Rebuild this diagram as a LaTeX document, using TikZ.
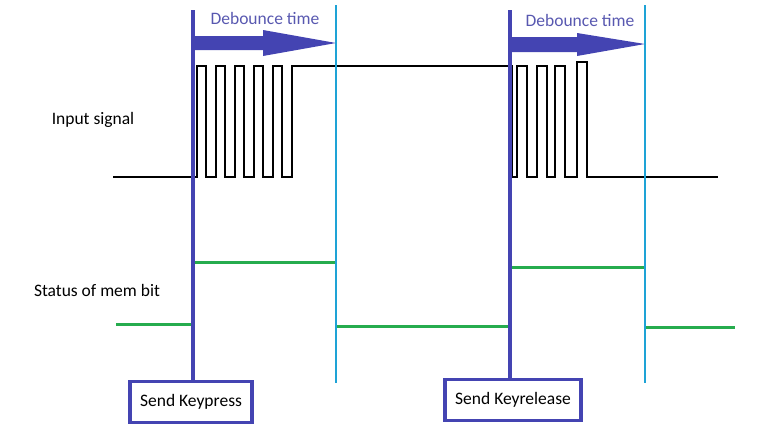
\documentclass[tikz,border=0pt]{standalone}
\usepackage{fontspec}
\setmainfont{Carlito}
\usepackage{xcolor}
\usepackage{tikz}

\definecolor{keyblue}{RGB}{68,68,178}
\definecolor{dbblue}{RGB}{30,163,214}
\definecolor{memgreen}{RGB}{38,172,78}
\definecolor{dbtext}{RGB}{88,88,176}

\begin{document}
\begin{tikzpicture}[x=1pt,y=-1pt,
	sig/.style={black, line width=2.4pt},
	mem/.style={memgreen, line width=3pt},
	keyline/.style={keyblue, line width=3.2pt},
	dbline/.style={dbblue, line width=2.8pt},
	keybox/.style={draw=keyblue, line width=3.2pt, minimum height=41pt, inner sep=0pt, font=\fontsize{17.5}{20}\selectfont},
	lbl/.style={font=\fontsize{17.5}{20}\selectfont}]
	\useasboundingbox (0,0) rectangle (784,432);
	% \draw[help lines, step=50] (0,0) grid (784,432);
	% labels
	\node[lbl] (insig) at (93,120){Input signal};
	\node[lbl] (membit) at (97,290){Status of mem bit};
	\node[lbl, text=dbtext] (dbA) at (265,18){Debounce time};
	\node[lbl, text=dbtext] (dbB) at (580,20){Debounce time};
	% boxes
	\node[keybox, minimum width=122pt] (kp) at (191,402){Send Keypress};
	\node[keybox, minimum width=136pt] (kr) at (513,400){Send Keyrelease};
	% debounce arrows
	\fill[keyblue] (193,36) -- (263,36) -- (263,30) -- (336,43) -- (263,56) -- (263,50) -- (193,50) -- cycle;
	\fill[keyblue] (510,37) -- (577,37) -- (577,33) -- (645,44) -- (577,56) -- (577,52) -- (510,52) -- cycle;
	% input signal
	\draw[sig] (113,177) -- (197,177) -- (197,66) -- (206,66) -- (206,177) -- (216,177) -- (216,66)
		-- (225,66) -- (225,177) -- (235,177) -- (235,66) -- (244,66) -- (244,177) -- (254,177)
		-- (254,66) -- (263,66) -- (263,177) -- (273,177) -- (273,66) -- (282,66) -- (282,177)
		-- (292,177) -- (292,66) -- (512,66) -- (512,177) -- (517,177) -- (517,66) -- (527,66)
		-- (527,177) -- (537,177) -- (537,66) -- (547,66) -- (547,177) -- (555,177) -- (555,66)
		-- (565,66) -- (565,177) -- (577,177) -- (577,62) -- (587,62) -- (587,177) -- (718,177);
	% mem bit
	\draw[mem] (116,324) -- (193,324);
	\draw[mem] (193,262) -- (336,262);
	\draw[mem] (336,326) -- (510,326);
	\draw[mem] (510,267) -- (645,267);
	\draw[mem] (645,327) -- (735,327);
	% key lines
	\coordinate (kpTop) at (193,10);
	\coordinate (krTop) at (510,10);
	\draw[keyline] (kpTop) -- (kpTop |- kp.north);
	\draw[keyline] (krTop) -- (krTop |- kr.north);
	% debounce ends
	\coordinate (dbAtop) at (336,5);
	\coordinate (dbAbot) at (336,383);
	\coordinate (dbBtop) at (645,5);
	\coordinate (dbBbot) at (645,383);
	\draw[dbline] (dbAtop) -- (dbAbot);
	\draw[dbline] (dbBtop) -- (dbBbot);
\end{tikzpicture}
\end{document}
